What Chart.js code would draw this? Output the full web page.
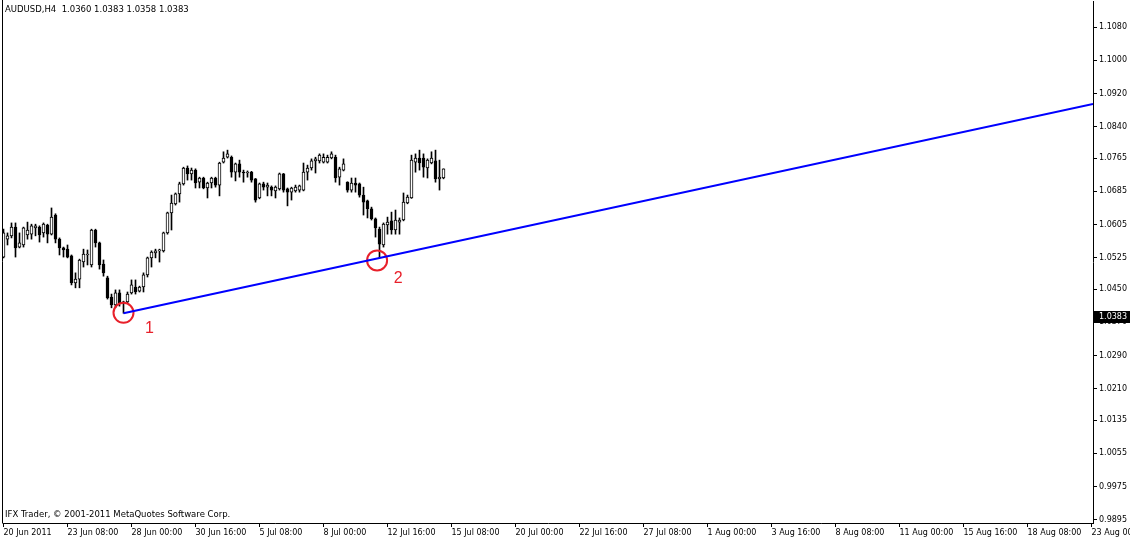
<!DOCTYPE html>
<html>
<head>
<meta charset="utf-8">
<script src="https://cdn.jsdelivr.net/npm/chart.js@4/dist/chart.umd.min.js"></script>
<style>
  html, body { margin: 0; padding: 0; background: #fff; }
  canvas { display: block; }
</style>
</head>
<body>
<canvas id="chart" width="1130" height="541"></canvas>
<script>
// AUDUSD H4 candles (bar 0 = 20 Jun 16:00)
const open = [
  1.0527, 1.0570, 1.0578, 1.0599, 1.0551, 1.0556, 1.0580, 1.0582, 1.0597, 1.0599,
  1.0585, 1.0604, 1.0582, 1.0628, 1.0570, 1.0549, 1.0546, 1.0530, 1.0465, 1.0474,
  1.0515, 1.0532, 1.0508, 1.0592, 1.0561, 1.0510, 1.0477, 1.0431, 1.0412, 1.0441,
  1.0417, 1.0419, 1.0441, 1.0455, 1.0445, 1.0455, 1.0484, 1.0525, 1.0537, 1.0542,
  1.0542, 1.0585, 1.0633, 1.0655, 1.0679, 1.0703, 1.0741, 1.0727, 1.0736, 1.0707,
  1.0717, 1.0693, 1.0705, 1.0717, 1.0700, 1.0755, 1.0767, 1.0767, 1.0731, 1.0751,
  1.0731, 1.0729, 1.0731, 1.0715, 1.0669, 1.0703, 1.0695, 1.0695, 1.0686, 1.0691,
  1.0727, 1.0691, 1.0683, 1.0686, 1.0688, 1.0688, 1.0731, 1.0741, 1.0758, 1.0758,
  1.0755, 1.0755, 1.0765, 1.0767, 1.0719, 1.0736, 1.0707, 1.0688, 1.0705, 1.0703,
  1.0676, 1.0662, 1.0643, 1.0619, 1.0594, 1.0556, 1.0604, 1.0614, 1.0592, 1.0611,
  1.0616, 1.0657, 1.0669, 1.0755, 1.0765, 1.0765, 1.0741, 1.0753, 1.0758, 1.0715,
  1.0717
];
const high = [
  1.0594, 1.0585, 1.0609, 1.0609, 1.0585, 1.0599, 1.0611, 1.0606, 1.0606, 1.0602,
  1.0609, 1.0606, 1.0645, 1.0631, 1.0573, 1.0551, 1.0556, 1.0532, 1.0489, 1.0522,
  1.0546, 1.0544, 1.0594, 1.0594, 1.0563, 1.0520, 1.0481, 1.0438, 1.0448, 1.0448,
  1.0421, 1.0443, 1.0472, 1.0472, 1.0457, 1.0489, 1.0527, 1.0542, 1.0546, 1.0546,
  1.0587, 1.0635, 1.0676, 1.0681, 1.0707, 1.0743, 1.0746, 1.0741, 1.0739, 1.0719,
  1.0719, 1.0707, 1.0719, 1.0719, 1.0755, 1.0780, 1.0784, 1.0770, 1.0753, 1.0760,
  1.0736, 1.0734, 1.0733, 1.0716, 1.0705, 1.0707, 1.0705, 1.0698, 1.0698, 1.0729,
  1.0728, 1.0693, 1.0695, 1.0700, 1.0700, 1.0753, 1.0748, 1.0763, 1.0767, 1.0775,
  1.0775, 1.0772, 1.0780, 1.0772, 1.0743, 1.0763, 1.0708, 1.0717, 1.0717, 1.0705,
  1.0695, 1.0664, 1.0647, 1.0621, 1.0599, 1.0609, 1.0623, 1.0635, 1.0640, 1.0621,
  1.0681, 1.0676, 1.0772, 1.0775, 1.0784, 1.0775, 1.0763, 1.0780, 1.0784, 1.0760,
  1.0739
];
const low = [
  1.0525, 1.0556, 1.0573, 1.0527, 1.0549, 1.0551, 1.0570, 1.0570, 1.0578, 1.0563,
  1.0575, 1.0561, 1.0580, 1.0561, 1.0532, 1.0527, 1.0525, 1.0460, 1.0453, 1.0453,
  1.0503, 1.0508, 1.0503, 1.0551, 1.0498, 1.0481, 1.0426, 1.0405, 1.0405, 1.0409,
  1.0392, 1.0417, 1.0438, 1.0438, 1.0443, 1.0443, 1.0479, 1.0503, 1.0525, 1.0515,
  1.0539, 1.0582, 1.0592, 1.0652, 1.0659, 1.0700, 1.0712, 1.0712, 1.0693, 1.0693,
  1.0691, 1.0669, 1.0693, 1.0695, 1.0674, 1.0753, 1.0765, 1.0719, 1.0710, 1.0719,
  1.0707, 1.0719, 1.0707, 1.0659, 1.0667, 1.0688, 1.0674, 1.0674, 1.0669, 1.0688,
  1.0683, 1.0650, 1.0664, 1.0683, 1.0683, 1.0686, 1.0712, 1.0736, 1.0729, 1.0753,
  1.0753, 1.0753, 1.0763, 1.0707, 1.0700, 1.0734, 1.0683, 1.0683, 1.0683, 1.0671,
  1.0628, 1.0621, 1.0616, 1.0575, 1.0525, 1.0551, 1.0582, 1.0582, 1.0582, 1.0582,
  1.0614, 1.0655, 1.0668, 1.0731, 1.0736, 1.0719, 1.0717, 1.0751, 1.0707, 1.0688,
  1.0715
];
const close = [
  1.0585, 1.0578, 1.0599, 1.0549, 1.0561, 1.0597, 1.0592, 1.0602, 1.0602, 1.0580,
  1.0606, 1.0582, 1.0623, 1.0570, 1.0549, 1.0544, 1.0527, 1.0465, 1.0474, 1.0520,
  1.0534, 1.0534, 1.0592, 1.0561, 1.0508, 1.0489, 1.0429, 1.0412, 1.0441, 1.0417,
  1.0419, 1.0438, 1.0460, 1.0443, 1.0455, 1.0484, 1.0525, 1.0539, 1.0542, 1.0543,
  1.0585, 1.0633, 1.0657, 1.0679, 1.0703, 1.0741, 1.0727, 1.0736, 1.0705, 1.0717,
  1.0693, 1.0705, 1.0717, 1.0700, 1.0753, 1.0765, 1.0775, 1.0731, 1.0751, 1.0731,
  1.0729, 1.0731, 1.0712, 1.0664, 1.0703, 1.0695, 1.0700, 1.0688, 1.0695, 1.0727,
  1.0688, 1.0683, 1.0693, 1.0695, 1.0698, 1.0731, 1.0741, 1.0758, 1.0763, 1.0772,
  1.0767, 1.0767, 1.0775, 1.0717, 1.0739, 1.0751, 1.0688, 1.0705, 1.0700, 1.0676,
  1.0659, 1.0643, 1.0619, 1.0597, 1.0558, 1.0606, 1.0611, 1.0592, 1.0616, 1.0616,
  1.0659, 1.0671, 1.0760, 1.0765, 1.0753, 1.0743, 1.0760, 1.0765, 1.0715, 1.0719,
  1.0739
];

// trend line: from the low at bar 30 out to the right edge of the chart
const trendBars = [30, 272.375];
const trendPrices = [1.0392, 1.0895];

// red circles marked 1 and 2
const markBars = [30, 93.4];
const markPrices = [1.0393, 1.0519];
const markNames = ['1', '2'];

// time labels every 16 bars
const timeTicks = [0, 16, 32, 48, 64, 80, 96, 112, 128, 144, 160, 176, 192, 208, 224, 240, 256, 272];
const timeLabels = ['20 Jun 2011', '23 Jun 08:00', '28 Jun 00:00', '30 Jun 16:00', '5 Jul 08:00',
  '8 Jul 00:00', '12 Jul 16:00', '15 Jul 08:00', '20 Jul 00:00', '22 Jul 16:00', '27 Jul 08:00',
  '1 Aug 00:00', '3 Aug 16:00', '8 Aug 08:00', '11 Aug 00:00', '15 Aug 16:00', '18 Aug 08:00',
  '23 Aug 00:00'];
const priceTicks = [1.1080, 1.1000, 1.0920, 1.0840, 1.0765, 1.0685, 1.0605, 1.0525, 1.0450,
  1.0370, 1.0290, 1.0210, 1.0135, 1.0055, 0.9975, 0.9895];

const title = 'AUDUSD,H4  1.0360 1.0383 1.0358 1.0383';
const footer = 'IFX Trader, \u00A9 2001-2011 MetaQuotes Software Corp.';
const lastPrice = 1.0383;

const font = '"DejaVu Sans", sans-serif';

let wicks = open.map((o, i) => ({ x: i, y: [low[i], high[i]] }));
let bodies = open.map((o, i) => ({ x: i, y: [Math.min(o, close[i]), Math.max(o, close[i])] }));
let bodyFill = open.map((o, i) => close[i] >= o ? '#ffffff' : '#000000');

const overlay = {
  id: 'overlay',
  afterDraw(chart) {
    const ctx = chart.ctx;
    const a = chart.chartArea;
    const xs = chart.scales.x, ys = chart.scales.y;
    ctx.save();
    ctx.strokeStyle = '#000';
    ctx.lineWidth = 1;
    ctx.beginPath();
    ctx.moveTo(2.5, 0);
    ctx.lineTo(2.5, a.bottom + 0.5);
    ctx.stroke();

    ctx.fillStyle = '#000';
    ctx.font = '8.5px ' + font;
    ctx.textBaseline = 'top';
    ctx.fillText(title, 5, 6);
    ctx.fillText(footer, 5, 511);

    // current price box on the price scale
    let py = Math.round(ys.getPixelForValue(lastPrice));
    ctx.fillRect(a.right + 1, py - 6, 40, 12);
    ctx.fillStyle = '#fff';
    ctx.font = '8px ' + font;
    ctx.textBaseline = 'middle';
    ctx.fillText(lastPrice.toFixed(4), a.right + 6, py);

    // numbers next to the circles
    const offs = [[26, 16], [21, 18]];
    ctx.fillStyle = '#e8202a';
    ctx.font = '16px "Liberation Sans", sans-serif';
    ctx.textAlign = 'center';
    markNames.forEach((n, k) => {
      let px = xs.getPixelForValue(markBars[k]);
      let qy = ys.getPixelForValue(markPrices[k]);
      ctx.fillText(n, px + offs[k][0], qy + offs[k][1]);
    });
    ctx.restore();
  }
};

let chart = new Chart(document.getElementById('chart'), {
  type: 'bar',
  data: {
    datasets: [
      {
        type: 'line',
        data: trendBars.map((b, i) => ({ x: b, y: trendPrices[i] })),
        borderColor: '#0000ff',
        borderWidth: 2,
        pointRadius: 0,
        fill: false,
        order: 0
      },
      {
        type: 'line',
        data: markBars.map((b, i) => ({ x: b, y: markPrices[i] })),
        showLine: false,
        pointRadius: 10,
        pointBorderWidth: 2,
        pointBorderColor: '#e8202a',
        pointBackgroundColor: 'rgba(0,0,0,0)',
        order: 0
      },
      {
        data: bodies,
        backgroundColor: bodyFill,
        borderColor: '#000',
        borderWidth: 1,
        borderSkipped: false,
        barThickness: 3,
        minBarLength: 1,
        grouped: false,
        order: 1
      },
      {
        data: wicks,
        backgroundColor: '#000',
        borderWidth: 0,
        barThickness: 1,
        grouped: false,
        order: 2
      }
    ]
  },
  options: {
    responsive: false,
    animation: false,
    devicePixelRatio: 1,
    layout: { autoPadding: false, padding: { left: 3, top: 1, right: 0, bottom: 0 } },
    plugins: {
      legend: { display: false },
      tooltip: { enabled: false }
    },
    scales: {
      x: {
        type: 'linear',
        min: -0.125,
        max: 272.375,
        offset: false,
        afterBuildTicks: s => { s.ticks = timeTicks.map(v => ({ value: v })); },
        afterFit: s => { s.height = 18; s.paddingLeft = 0; s.paddingRight = 0; },
        ticks: {
          autoSkip: false,
          maxRotation: 0,
          align: 'start',
          padding: 1,
          color: '#000',
          font: { family: font, size: 8 },
          callback: v => timeLabels[timeTicks.indexOf(v)]
        },
        grid: { drawOnChartArea: false, tickLength: 4, tickColor: '#000', offset: false },
        border: { color: '#000' }
      },
      y: {
        type: 'linear',
        position: 'right',
        min: 0.98877,
        max: 1.11425,
        afterBuildTicks: s => { s.ticks = priceTicks.map(v => ({ value: v })); },
        afterFit: s => { s.width = 37; s.paddingTop = 0; s.paddingBottom = 0; },
        ticks: {
          padding: 2,
          color: '#000',
          font: { family: font, size: 8 },
          callback: v => v.toFixed(4)
        },
        grid: { drawOnChartArea: false, tickLength: 4, tickColor: '#000' },
        border: { color: '#000' }
      }
    }
  },
  plugins: [overlay]
});
</script>
</body>
</html>
